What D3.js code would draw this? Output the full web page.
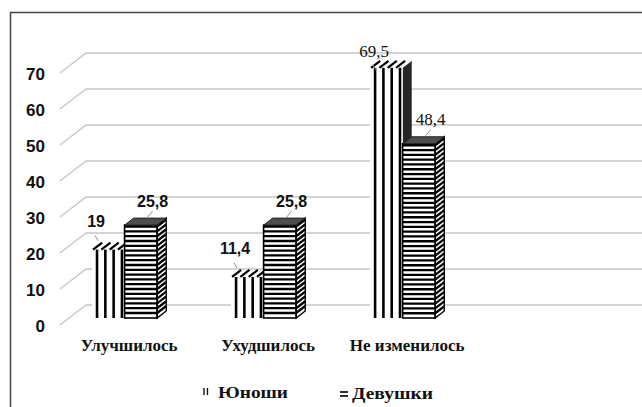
<!DOCTYPE html>
<html>
<head>
<meta charset="utf-8">
<script src="https://cdn.jsdelivr.net/npm/d3@7"></script>
<style>
  html, body { margin: 0; padding: 0; background: #fff; }
  svg { display: block; }
  .tick-label { font-family: 'Liberation Sans', Arial, sans-serif; font-size: 17px; font-weight: bold; fill: #111; }
  .value-label { font-family: 'Liberation Sans', Arial, sans-serif; font-size: 16px; font-weight: bold; fill: #111; }
  .value-label.serif { font-family: 'Liberation Serif', serif; font-weight: normal; font-size: 17px; }
  .cat-label { font-family: 'Liberation Serif', serif; font-size: 17px; font-weight: bold; fill: #111; }
  .legend-label { font-family: 'Liberation Serif', serif; font-size: 17px; font-weight: bold; fill: #111; }
</style>
</head>
<body>
<div id="chart"></div>
<script>
// Data
const categories = ['Улучшилось', 'Ухудшилось', 'Не изменилось'];
const seriesNames = ['Юноши', 'Девушки'];
const boysValues = [19, 11.4, 69.5];
const girlsValues = [25.8, 25.8, 48.4];
const yTicks = [0, 10, 20, 30, 40, 50, 60, 70];
// labels of this category were typed in a serif face in the original
const serifLabelCategories = ['Не изменилось'];

const width = 642;
const height = 407;

// 3d look: the side wall goes back by this much
const depth = { dx: 26, dy: -20 };
// bars sit between these fractions of the depth
const barFront = 0.35;
const barBack = 0.7;

const svg = d3
  .select('#chart')
  .append('svg')
  .attr('width', width)
  .attr('height', height)
  .attr('viewBox', [0, 0, width, height]);

// frame (cropped on right and bottom)
svg
  .append('rect')
  .attr('x', 10.5)
  .attr('y', 12.5)
  .attr('width', 700)
  .attr('height', 500)
  .attr('fill', 'none')
  .attr('stroke', '#444')
  .attr('stroke-width', 1.5);

// scales on the front plane
const yScale = d3.scaleLinear().domain([0, 70]).range([325, 73]);
const xScale = d3
  .scaleBand()
  .domain(categories)
  .range([60, 449])
  .paddingInner(0.532)
  .paddingOuter(0.165);
const xSeries = d3.scaleBand().domain(seriesNames).range([0, xScale.bandwidth()]);

const proj = (x, y, z) => [x + depth.dx * z, y + depth.dy * z];

// back wall gridlines
const grid = svg.append('g');
grid
  .selectAll('line.back')
  .data(yTicks)
  .join('line')
  .attr('class', 'back')
  .attr('x1', (d) => proj(60, yScale(d), 1)[0])
  .attr('y1', (d) => proj(60, yScale(d), 1)[1])
  .attr('x2', width)
  .attr('y2', (d) => proj(60, yScale(d), 1)[1])
  .attr('stroke', '#c6c6c6')
  .attr('stroke-width', 1.5);

// side wall gridlines
grid
  .selectAll('line.side')
  .data(yTicks)
  .join('line')
  .attr('class', 'side')
  .attr('x1', 60)
  .attr('y1', (d) => yScale(d))
  .attr('x2', (d) => proj(60, yScale(d), 1)[0])
  .attr('y2', (d) => proj(60, yScale(d), 1)[1])
  .attr('stroke', '#c6c6c6')
  .attr('stroke-width', 1.5);

// y tick labels
svg
  .append('g')
  .selectAll('text')
  .data(yTicks)
  .join('text')
  .attr('class', 'tick-label')
  .attr('x', 45)
  .attr('y', (d) => yScale(d) + 1)
  .attr('text-anchor', 'end')
  .attr('dominant-baseline', 'central')
  .text((d) => d);

const rows = categories.map((c, i) => ({ cat: c, boys: boysValues[i], girls: girlsValues[i] }));
const fmt = (v) => String(v).replace('.', ',');

const bdx = depth.dx * (barBack - barFront);
const bdy = depth.dy * (barBack - barFront);
const poly = (pts) => pts.map((p) => p.join(',')).join(' ');

const bars = svg.append('g');

rows.forEach((row) => {
  // ---- Юноши: vertical stripes ----
  {
    const [x0, yb] = proj(xScale(row.cat) + xSeries('Юноши'), yScale(0), barFront);
    const w = xSeries.bandwidth();
    const yt = yb - (yScale(0) - yScale(row.boys));
    const g = bars.append('g');
    // side face (dark)
    g.append('polygon')
      .attr('points', poly([[x0 + w, yt], [x0 + w + bdx, yt + bdy], [x0 + w + bdx, yb + bdy], [x0 + w, yb]]))
      .attr('fill', '#262626');
    // front face background
    g.append('rect')
      .attr('x', x0)
      .attr('y', yt)
      .attr('width', w)
      .attr('height', yb - yt)
      .attr('fill', '#fff');
    // top face
    g.append('polygon')
      .attr('points', poly([[x0, yt], [x0 + w, yt], [x0 + w + bdx, yt + bdy], [x0 + bdx, yt + bdy]]))
      .attr('fill', '#fff');
    const stripes = d3.range(4).map((i) => x0 + 5 + i * 8.3);
    g.selectAll('line.v')
      .data(stripes)
      .join('line')
      .attr('class', 'v')
      .attr('x1', (d) => d)
      .attr('x2', (d) => d)
      .attr('y1', yt)
      .attr('y2', yb)
      .attr('stroke', '#000')
      .attr('stroke-width', 2.6);
    g.selectAll('line.t')
      .data(stripes)
      .join('line')
      .attr('class', 't')
      .attr('x1', (d) => d - 4)
      .attr('y1', yt)
      .attr('x2', (d) => d - 4 + bdx)
      .attr('y2', yt + bdy)
      .attr('stroke', '#000')
      .attr('stroke-width', 2.2);
  }

  // ---- Девушки: horizontal stripes ----
  {
    const [x0, yb] = proj(xScale(row.cat) + xSeries('Девушки'), yScale(0), barFront);
    const w = xSeries.bandwidth();
    const yt = yb - (yScale(0) - yScale(row.girls));
    const g = bars.append('g');
    const side = [[x0 + w, yt], [x0 + w + bdx, yt + bdy], [x0 + w + bdx, yb + bdy], [x0 + w, yb]];
    g.append('rect')
      .attr('x', x0)
      .attr('y', yt)
      .attr('width', w)
      .attr('height', yb - yt)
      .attr('fill', '#fff');
    g.append('polygon').attr('points', poly(side)).attr('fill', '#fff');
    const stripes = d3.range(yt + 1.5, yb - 1, 4.8);
    g.selectAll('line.h')
      .data(stripes)
      .join('line')
      .attr('class', 'h')
      .attr('x1', x0)
      .attr('x2', x0 + w)
      .attr('y1', (d) => d)
      .attr('y2', (d) => d)
      .attr('stroke', '#000')
      .attr('stroke-width', 2.3);
    g.selectAll('line.s')
      .data(stripes)
      .join('line')
      .attr('class', 's')
      .attr('x1', x0 + w)
      .attr('y1', (d) => d)
      .attr('x2', x0 + w + bdx)
      .attr('y2', (d) => d + bdy)
      .attr('stroke', '#000')
      .attr('stroke-width', 2.3);
    g.append('rect')
      .attr('x', x0)
      .attr('y', yt)
      .attr('width', w)
      .attr('height', yb - yt)
      .attr('fill', 'none')
      .attr('stroke', '#000')
      .attr('stroke-width', 1.6);
    g.append('polygon')
      .attr('points', poly(side))
      .attr('fill', 'none')
      .attr('stroke', '#000')
      .attr('stroke-width', 1.4);
    // top face
    g.append('polygon')
      .attr('points', poly([[x0, yt], [x0 + w, yt], [x0 + w + bdx, yt + bdy], [x0 + bdx, yt + bdy]]))
      .attr('fill', '#4d4d4d')
      .attr('stroke', '#222')
      .attr('stroke-width', 1);
  }
});

// value labels with short leader lines
const labels = svg.append('g');
rows.forEach((row) => {
  const serif = serifLabelCategories.includes(row.cat);
  // boys
  {
    const [x0, yb] = proj(xScale(row.cat) + xSeries('Юноши'), yScale(0), barFront);
    const yt = yb - (yScale(0) - yScale(row.boys));
    const cx = x0 + 4;
    const cy = Math.max(yt - 28, 51);
    labels
      .append('line')
      .attr('x1', cx - 1)
      .attr('y1', cy + 14)
      .attr('x2', cx + 2)
      .attr('y2', cy + 19)
      .attr('stroke', '#888')
      .attr('stroke-width', 1);
    labels
      .append('text')
      .attr('class', serif ? 'value-label serif' : 'value-label')
      .attr('x', cx)
      .attr('y', cy)
      .attr('text-anchor', 'middle')
      .attr('dominant-baseline', 'central')
      .text(fmt(row.boys));
  }
  // girls
  {
    const [x0, yb] = proj(xScale(row.cat) + xSeries('Девушки'), yScale(0), barFront);
    const yt = yb - (yScale(0) - yScale(row.girls));
    const cx = x0 + 28;
    const cy = yt - 24;
    labels
      .append('line')
      .attr('x1', cx)
      .attr('y1', cy + 10)
      .attr('x2', cx - 5)
      .attr('y2', cy + 16)
      .attr('stroke', '#888')
      .attr('stroke-width', 1);
    labels
      .append('text')
      .attr('class', serif ? 'value-label serif' : 'value-label')
      .attr('x', cx)
      .attr('y', cy)
      .attr('text-anchor', 'middle')
      .attr('dominant-baseline', 'central')
      .text(fmt(row.girls));
  }
});

// category labels
svg
  .append('g')
  .selectAll('text')
  .data(categories)
  .join('text')
  .attr('class', 'cat-label')
  .attr('x', (d) => xScale(d) + xScale.bandwidth() / 2 + depth.dx * ((barFront + barBack) / 2))
  .attr('y', 351)
  .attr('text-anchor', 'middle')
  .text((d) => d);

// legend
const legend = svg.append('g');
// Юноши swatch: two short vertical strokes
legend
  .selectAll('line.lb')
  .data([0, 1])
  .join('line')
  .attr('class', 'lb')
  .attr('x1', (d) => 204 + d * 3.5)
  .attr('x2', (d) => 204 + d * 3.5)
  .attr('y1', 388)
  .attr('y2', 395)
  .attr('stroke', '#000')
  .attr('stroke-width', 1.3);
legend
  .append('text')
  .attr('class', 'legend-label')
  .attr('x', 218)
  .attr('y', 398)
  .attr('textLength', 70)
  .attr('lengthAdjust', 'spacingAndGlyphs')
  .text(seriesNames[0]);
// Девушки swatch: two short horizontal strokes
legend
  .selectAll('line.lg')
  .data([0, 1])
  .join('line')
  .attr('class', 'lg')
  .attr('x1', 340)
  .attr('x2', 348)
  .attr('y1', (d) => 392 + d * 4)
  .attr('y2', (d) => 392 + d * 4)
  .attr('stroke', '#000')
  .attr('stroke-width', 1.6);
legend
  .append('text')
  .attr('class', 'legend-label')
  .attr('x', 352)
  .attr('y', 399)
  .attr('textLength', 81)
  .attr('lengthAdjust', 'spacingAndGlyphs')
  .text(seriesNames[1]);
</script>
</body>
</html>
